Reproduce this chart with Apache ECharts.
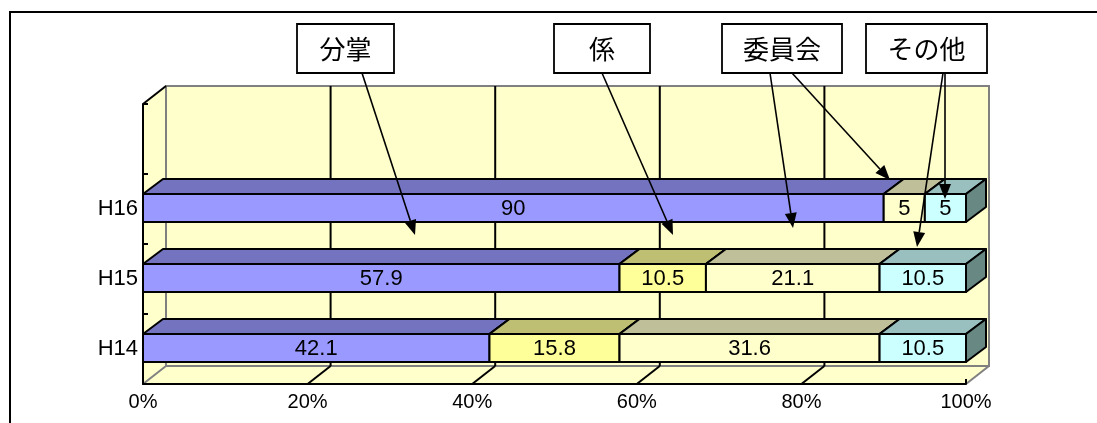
<!DOCTYPE html>
<html><head><meta charset="utf-8">
<script src="https://cdn.jsdelivr.net/npm/echarts@6/dist/echarts.min.js"></script>
<style>html,body{margin:0;padding:0;background:#fff}#c{width:1097px;height:423px}</style>
</head><body><div id="c"></div>
<script>
// ---- data ----
const categories = ['H14', 'H15', 'H16', ''];
const seriesNames = ['分掌', '係', '委員会', 'その他'];
const bunsho = [42.1, 57.9, 90];
const kakari = [15.8, 10.5, 0];
const iinkai = [31.6, 21.1, 5];
const sonota = [10.5, 10.5, 5];
const xTicks = [0, 20, 40, 60, 80, 100];

// ---- styles ----
const frontColors = ['#9999FF', '#FFFF99', '#FFFFCC', '#CCFFFF'];
const topColors   = ['#7373BF', '#BFBF73', '#BFBF99', '#99BFBF'];
const sideColors  = ['#4D4D80', '#80804D', '#808066', '#688884'];
const WALL = '#FFFFCC', EDGE = '#808080';
const WDX = 23, WDY = -18;   // wall depth
const BDX = 20, BDY = -15;   // bar depth
const NUM_FONT = '"Liberation Sans", Arial, sans-serif';
const CJK_FONT = '"Noto Sans CJK JP", sans-serif';

const allValues = [bunsho, kakari, iinkai, sonota];

// stacked [start, end, catIndex, value]
function stacked(k) {
  return allValues[k].map((v, i) => {
    let s = 0;
    for (let j = 0; j < k; j++) s += allValues[j][i];
    return [s, s + v, i, v];
  });
}

function barItem(k) {
  return function (params, api) {
    const s = api.value(0), e = api.value(1), ci = api.value(2), v = api.value(3);
    if (!(v > 0)) return null;
    const p0 = api.coord([s, ci]), p1 = api.coord([e, ci]);
    const bh = api.size([0, 1])[1] * 0.4;
    const x0 = p0[0], x1 = p1[0];
    const yt = p0[1] - bh / 2 - 1, yb = yt + bh;
    const stroke = { stroke: '#000', lineWidth: 2, lineJoin: 'round' };
    return {
      type: 'group',
      children: [
        { type: 'polygon', shape: { points: [[x0, yt], [x0 + BDX, yt + BDY], [x1 + BDX, yt + BDY], [x1, yt]] },
          style: Object.assign({ fill: topColors[k] }, stroke) },
        { type: 'polygon', shape: { points: [[x1, yt], [x1 + BDX, yt + BDY], [x1 + BDX, yb + BDY], [x1, yb]] },
          style: Object.assign({ fill: sideColors[k] }, stroke) },
        { type: 'rect', shape: { x: x0, y: yt, width: x1 - x0, height: bh },
          style: Object.assign({ fill: frontColors[k] }, stroke) },
        { type: 'text', x: (x0 + x1) / 2, y: yt + bh / 2 + 1,
          style: { text: String(v), fill: '#000', font: '22px ' + NUM_FONT, align: 'center', verticalAlign: 'middle' } }
      ]
    };
  };
}

function wallItem(params, api) {
  const cs = params.coordSys;
  const x = cs.x, y = cs.y, w = cs.width, h = cs.height;
  const children = [];
  children.push({ type: 'polygon', shape: { points: [[x, y + h], [x, y], [x + WDX, y + WDY], [x + WDX, y + h + WDY]] },
    style: { fill: WALL } });
  children.push({ type: 'polygon', shape: { points: [[x, y + h], [x + WDX, y + h + WDY], [x + w + WDX, y + h + WDY], [x + w, y + h]] },
    style: { fill: WALL } });
  children.push({ type: 'rect', shape: { x: x + WDX, y: y + WDY, width: w, height: h },
    style: { fill: WALL, stroke: EDGE, lineWidth: 2 } });
  xTicks.forEach(t => {
    const px = api.coord([t, 0])[0];
    const inner = t > xTicks[0] && t < xTicks[xTicks.length - 1];
    if (inner) {
      children.push({ type: 'line', shape: { x1: px + WDX, y1: y + WDY, x2: px + WDX, y2: y + h + WDY },
        style: { stroke: '#000', lineWidth: 2 } });
    }
    children.push({ type: 'line', shape: { x1: px, y1: y + h, x2: px + WDX, y2: y + h + WDY },
      style: { stroke: inner ? '#000' : EDGE, lineWidth: 2 } });
  });
  children.push({ type: 'line', shape: { x1: x, y1: y, x2: x + WDX, y2: y + WDY },
    style: { stroke: '#000', lineWidth: 2 } });
  children.push({ type: 'line', shape: { x1: x + w, y1: y + h, x2: x + w, y2: y + h - 5 },
    style: { stroke: '#000', lineWidth: 2 } });
  return { type: 'group', children };
}

// ---- annotations (layout) ----
const boxes = [
  { name: seriesNames[0], x: 297, y: 24, w: 97, h: 49 },
  { name: seriesNames[1], x: 554, y: 24, w: 96, h: 49 },
  { name: seriesNames[2], x: 722, y: 24, w: 120, h: 49 },
  { name: seriesNames[3], x: 866, y: 24, w: 121, h: 49 }
];
const arrows = [
  [362, 73, 415, 235],
  [602, 73, 673, 235],
  [770, 73, 793, 228],
  [792, 73, 890, 180],
  [943, 73, 917, 247],
  [945, 73, 945, 199]
];

const graphic = [
  { type: 'rect', shape: { x: 10, y: 12, width: 1200, height: 500 }, style: { fill: 'none', stroke: '#000', lineWidth: 2 }, z: 100 }
];
arrows.forEach(a => {
  const [x1, y1, x2, y2] = a;
  const L = Math.hypot(x2 - x1, y2 - y1), ux = (x2 - x1) / L, uy = (y2 - y1) / L;
  const hl = 15, hw = 6;
  const bx = x2 - ux * hl, by = y2 - uy * hl;
  graphic.push({ type: 'line', shape: { x1, y1, x2: bx, y2: by }, style: { stroke: '#000', lineWidth: 1.6 }, z: 100 });
  graphic.push({ type: 'polygon', shape: { points: [[x2, y2], [bx - uy * hw, by + ux * hw], [bx + uy * hw, by - ux * hw]] },
    style: { fill: '#000' }, z: 100 });
});
boxes.forEach(b => {
  graphic.push({ type: 'rect', shape: { x: b.x, y: b.y, width: b.w, height: b.h },
    style: { fill: '#fff', stroke: '#000', lineWidth: 1.8 }, z: 101 });
  graphic.push({ type: 'text', x: b.x + b.w / 2, y: b.y + b.h / 2 + 1,
    style: { text: b.name, fill: '#000', font: '26px ' + CJK_FONT, align: 'center', verticalAlign: 'middle' }, z: 102 });
});

const chart = echarts.init(document.getElementById('c'), null, { renderer: 'canvas' });
const series = [{ type: 'custom', renderItem: wallItem, data: [[0, 0]], z: 1, silent: true }];
seriesNames.forEach((n, k) => {
  series.push({ type: 'custom', name: n, renderItem: barItem(k), data: stacked(k), z: 2, silent: true,
    encode: { x: [0, 1], y: 2 } });
});

chart.setOption({
  animation: false,
  backgroundColor: '#fff',
  grid: { left: 143, top: 104, width: 823, height: 280 },
  xAxis: {
    type: 'value', min: 0, max: 100, interval: 20, z: 10,
    axisLine: { show: true, lineStyle: { color: '#000', width: 2 } },
    axisTick: { show: false }, splitLine: { show: false },
    axisLabel: { formatter: '{value}%', color: '#000', fontSize: 20, fontFamily: 'Liberation Sans', margin: 8 }
  },
  yAxis: {
    type: 'category', data: categories, z: 10,
    axisLine: { show: true, lineStyle: { color: '#000', width: 2 } },
    axisTick: { show: true, inside: true, length: 5, lineStyle: { color: '#000', width: 2 } },
    splitLine: { show: false },
    axisLabel: { color: '#000', fontSize: 22, fontFamily: 'Liberation Sans', margin: 5 }
  },
  graphic,
  series
});
</script></body></html>
